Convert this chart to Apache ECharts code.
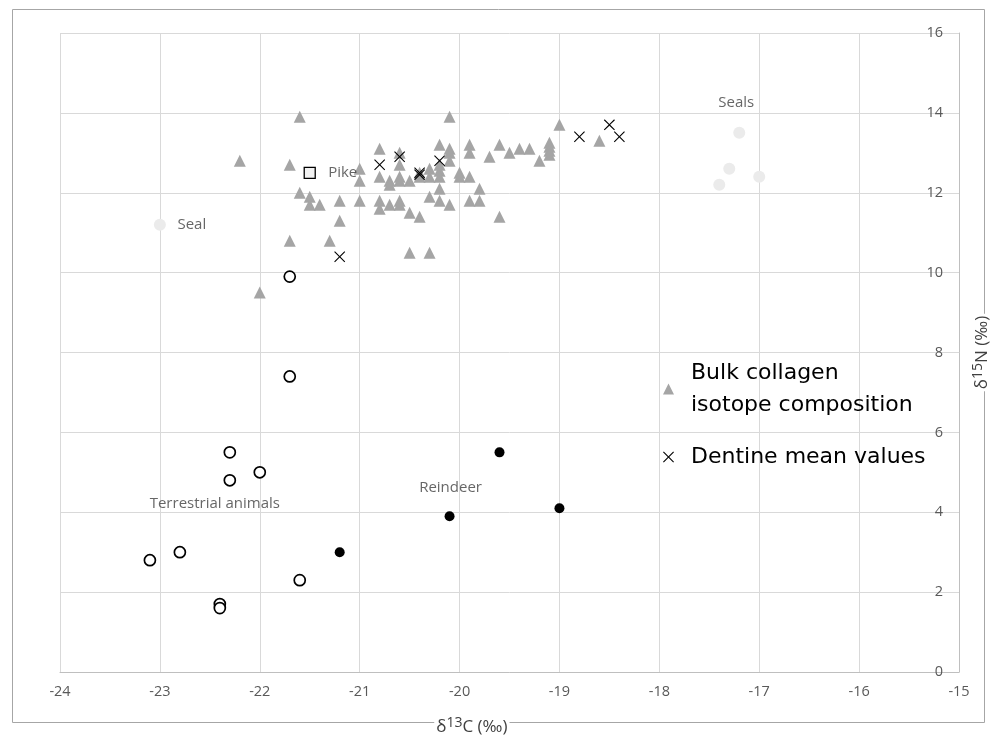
<!DOCTYPE html>
<html>
<head>
<meta charset="utf-8">
<script src="https://cdn.jsdelivr.net/npm/echarts@6/dist/echarts.min.js"></script>
<style>
  html, body { margin: 0; padding: 0; background: #fff; }
  #chart { width: 996px; height: 735px; }
</style>
</head>
<body>
<div id="chart"></div>
<script>
// bulk collagen (triangles), [d13C, d15N]
var bulkCollagen = [
  [-22.2, 12.8], [-21.6, 13.9], [-21.7, 12.7], [-21.6, 12.0], [-21.5, 11.9], [-21.5, 11.7],
  [-21.4, 11.7], [-21.2, 11.8], [-21.0, 11.8], [-21.2, 11.3], [-21.7, 10.8], [-21.3, 10.8],
  [-22.0, 9.5], [-21.0, 12.6], [-21.0, 12.3],
  [-20.8, 13.1], [-20.8, 12.4], [-20.7, 12.3], [-20.7, 12.2], [-20.6, 13.0], [-20.6, 12.7],
  [-20.6, 12.4], [-20.6, 12.3], [-20.5, 12.3], [-20.4, 12.5], [-20.4, 12.4], [-20.3, 12.6],
  [-20.3, 12.4], [-20.2, 13.2], [-20.2, 12.7], [-20.2, 12.55], [-20.2, 12.4], [-20.2, 12.1],
  [-20.1, 13.9], [-20.1, 13.1], [-20.1, 13.0], [-20.1, 12.8], [-20.0, 12.5], [-20.0, 12.4],
  [-19.9, 13.2], [-19.9, 13.0], [-19.9, 12.4], [-19.8, 12.1], [-19.7, 12.9], [-19.6, 13.2],
  [-19.5, 13.0], [-19.4, 13.1], [-19.3, 13.1], [-19.2, 12.8], [-19.1, 13.25], [-19.1, 13.15],
  [-19.1, 13.05], [-19.1, 12.95], [-19.0, 13.7], [-18.6, 13.3],
  [-20.8, 11.8], [-20.8, 11.6], [-20.7, 11.7], [-20.6, 11.8], [-20.6, 11.7], [-20.5, 11.5],
  [-20.4, 11.4], [-20.3, 11.9], [-20.2, 11.8], [-20.1, 11.7], [-19.9, 11.8], [-19.8, 11.8],
  [-19.6, 11.4], [-20.5, 10.5], [-20.3, 10.5]
];
var dentineMeans = [
  [-21.2, 10.4], [-20.8, 12.7], [-20.6, 12.9], [-20.4, 12.5], [-20.4, 12.45], [-20.2, 12.8],
  [-18.8, 13.4], [-18.5, 13.7], [-18.4, 13.4]
];
var terrestrial = [
  [-21.7, 9.9], [-21.7, 7.4], [-22.3, 5.5], [-22.3, 4.8], [-22.0, 5.0], [-23.1, 2.8],
  [-22.8, 3.0], [-22.4, 1.7], [-22.4, 1.6], [-21.6, 2.3]
];
var reindeer = [[-21.2, 3.0], [-20.1, 3.9], [-19.6, 5.5], [-19.0, 4.1]];
var pike = [[-21.5, 12.5]];
var seals = [[-23.0, 11.2], [-17.2, 13.5], [-17.3, 12.6], [-17.4, 12.2], [-17.0, 12.4]];

var noteNames = ['Seal', 'Pike', 'Seals', 'Terrestrial animals', 'Reindeer'];
var noteCoords = [[-22.68, 11.2], [-21.17, 12.5], [-17.23, 14.25], [-22.45, 4.22], [-20.09, 4.62]];

var xTicks = { min: -24, max: -15, step: 1 };
var yTicks = { min: 0, max: 16, step: 2 };

var bulkName = 'Bulk collagen\nisotope composition';
var dentineName = 'Dentine mean values';
var crossPath = 'path://M0,0.7L0.7,0L5,4.3L9.3,0L10,0.7L5.7,5L10,9.3L9.3,10L5,5.7L0.7,10L0,9.3L4.3,5Z';

var chart = echarts.init(document.getElementById('chart'), null, { renderer: 'canvas' });

var labelFont = '"Open Sans", sans-serif';

var option = {
  backgroundColor: '#fff',
  animation: false,
  grid: { left: 60, right: 37, top: 33, bottom: 63, outerBoundsMode: 'none', containLabel: false },
  graphic: [{
    type: 'rect',
    z: -10,
    shape: { x: 12.5, y: 9.5, width: 972, height: 713 },
    style: { fill: 'none', stroke: '#a6a6a6', lineWidth: 1 },
    silent: true
  }],
  legend: {
    orient: 'vertical',
    left: 663,
    top: 357,
    padding: 0,
    itemWidth: 11,
    itemHeight: 11,
    itemGap: 20,
    selectedMode: false,
    textStyle: {
      fontFamily: '"DejaVu Sans", Verdana, sans-serif',
      fontSize: 22,
      lineHeight: 32,
      color: '#000',
      padding: [0, 0, 0, 12]
    },
    data: [
      { name: bulkName, icon: 'triangle', itemStyle: { color: '#a5a5a5' } },
      { name: dentineName, icon: crossPath, itemStyle: { color: '#000' } }
    ]
  },
  xAxis: {
    type: 'value',
    min: xTicks.min,
    max: xTicks.max,
    interval: xTicks.step,
    name: '{a|δ}{s|13}{a|C (‰)}',
    nameLocation: 'middle',
    nameGap: 44,
    nameTextStyle: {
      align: 'right',
      backgroundColor: '#fff',
      padding: [0, 2, 0, 2],
      rich: {
        a: { fontFamily: labelFont, fontSize: 17, color: '#404040' },
        s: { fontFamily: labelFont, fontSize: 14, color: '#404040', padding: [0, 0, 8, 0] }
      }
    },
    axisLine: { show: true, lineStyle: { color: '#bfbfbf', width: 1 } },
    axisTick: { show: false },
    axisLabel: { color: '#595959', fontFamily: labelFont, fontSize: 14.5, margin: 12 },
    splitLine: { show: true, lineStyle: { color: '#d9d9d9', width: 1 } }
  },
  yAxis: {
    type: 'value',
    position: 'right',
    min: yTicks.min,
    max: yTicks.max,
    interval: yTicks.step,
    name: '{a|δ}{s|15}{a|N (‰)}',
    nameLocation: 'middle',
    nameRotate: 90,
    nameGap: 12,
    nameTextStyle: {
      backgroundColor: '#fff',
      padding: [0, 2, 0, 2],
      rich: {
        a: { fontFamily: labelFont, fontSize: 17, color: '#404040' },
        s: { fontFamily: labelFont, fontSize: 14, color: '#404040', padding: [0, 0, 8, 0] }
      }
    },
    axisLine: { show: true, lineStyle: { color: '#bfbfbf', width: 1 } },
    axisTick: { show: false },
    axisLabel: { inside: true, color: '#595959', fontFamily: labelFont, fontSize: 14.5, margin: 16 },
    splitLine: { show: true, lineStyle: { color: '#d9d9d9', width: 1 } }
  },
  series: [
    {
      name: 'Seal',
      type: 'scatter',
      symbol: 'circle',
      symbolSize: 12,
      itemStyle: { color: '#ebebeb', opacity: 1 },
      data: seals
    },
    {
      name: 'Terrestrial',
      type: 'scatter',
      symbol: 'circle',
      symbolSize: 11,
      itemStyle: { color: '#fff', borderColor: '#000', borderWidth: 1.7, opacity: 1 },
      data: terrestrial
    },
    {
      name: 'Reindeer',
      type: 'scatter',
      symbol: 'circle',
      symbolSize: 10,
      itemStyle: { color: '#000', opacity: 1 },
      data: reindeer
    },
    {
      name: 'Pike',
      type: 'scatter',
      symbol: 'rect',
      symbolSize: 11,
      itemStyle: { color: '#f2f2f2', borderColor: '#000', borderWidth: 1.3, opacity: 1 },
      data: pike
    },
    {
      name: bulkName,
      type: 'scatter',
      symbol: 'triangle',
      symbolSize: 12,
      itemStyle: { color: '#a5a5a5', opacity: 1 },
      data: bulkCollagen
    },
    {
      name: dentineName,
      type: 'scatter',
      symbol: crossPath,
      symbolSize: 11,
      itemStyle: { color: '#000', opacity: 1 },
      data: dentineMeans
    },
    {
      name: 'notes',
      type: 'scatter',
      symbolSize: 1,
      silent: true,
      itemStyle: { color: 'rgba(0,0,0,0)' },
      label: {
        show: true,
        position: 'inside',
        formatter: function (p) { return p.name; },
        fontFamily: labelFont,
        fontSize: 15,
        color: '#404040'
      },
      data: noteNames.map(function (n, i) { return { name: n, value: noteCoords[i] }; })
    }
  ]
};

chart.setOption(option);
</script>
</body>
</html>
